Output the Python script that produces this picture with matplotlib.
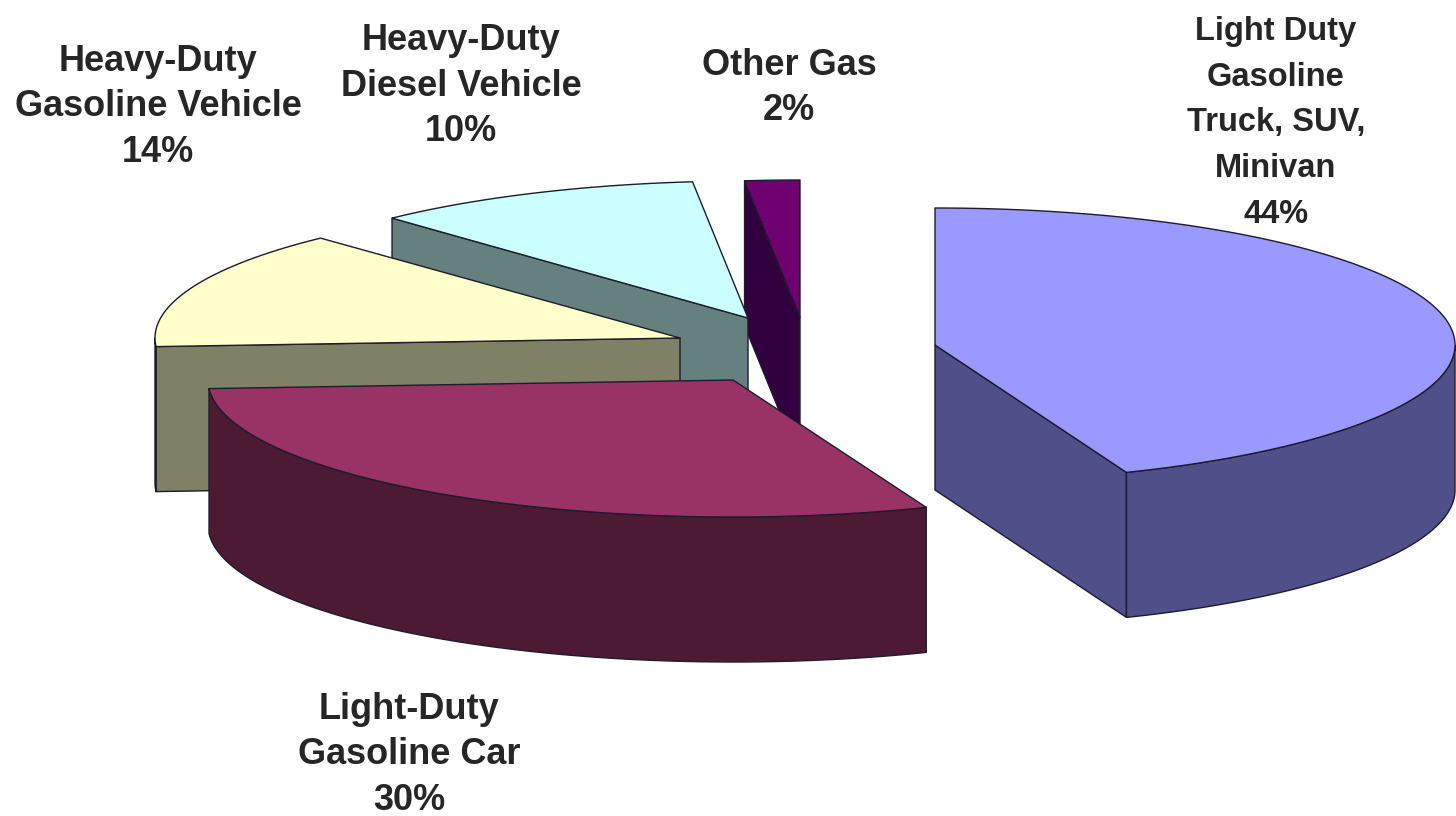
import numpy as np
import matplotlib
matplotlib.use('Agg')
import matplotlib.pyplot as plt
from matplotlib.patches import Polygon

# data
labels = ['Light Duty\nGasoline\nTruck, SUV,\nMinivan\n44%',
          'Light-Duty\nGasoline Car\n30%',
          'Heavy-Duty\nGasoline Vehicle\n14%',
          'Heavy-Duty\nDiesel Vehicle\n10%',
          'Other Gas\n2%']
# unrounded shares
values = [44, 30, 14, 10.3, 1.7]

# look of the slices, pixel units
apex_x = [935, 733, 680, 748, 800]
apex_y = [345, 380, 338, 318, 317]
radius_x = [520, 525, 525, 520, 520]
top_colors = ['#9999ff', '#993366', '#ffffcc', '#ccffff', '#6f006f']
side_colors = ['#4f4f8a', '#4d1a33', '#808066', '#668080', '#33003f']
label_x = [1276, 409, 158, 461, 789]
label_y = [123, 755, 107, 86, 88]
label_size = [23.5, 26, 26, 26, 26]
label_gap = [50, 48, 48, 48, 48]
draw_order = [4, 3, 2, 1, 0]
ry, depth = 137, 145

fig = plt.figure(figsize=(14.56, 8.16), dpi=100)
ax = fig.add_axes([0, 0, 1, 1])
ax.set_xlim(0, 1456)
ax.set_ylim(816, 0)
ax.axis('off')


def rim(x0, y0, rx, a, b):
    # a, b in degrees clockwise from 12 o'clock
    t = np.radians(np.linspace(a, b, 200))
    return np.column_stack([x0 + rx * np.sin(t), y0 - ry * np.cos(t)])


edges = np.cumsum([0] + values) / sum(values) * 360

for i in draw_order:
    a, b = edges[i], edges[i + 1]
    x0, y0, rx = apex_x[i], apex_y[i], radius_x[i]
    down = np.array([0, depth])
    kw = dict(edgecolor='#1c1c2c', linewidth=1.0, joinstyle='round')

    if 180 < a < 360:
        p = rim(x0, y0, rx, a, a)[:1]
        face = np.vstack([[x0, y0], p, p + down, [x0, y0 + depth]])
        ax.add_patch(Polygon(face, facecolor=side_colors[i], **kw))
    if 0 < b < 180:
        p = rim(x0, y0, rx, b, b)[:1]
        face = np.vstack([[x0, y0], p, p + down, [x0, y0 + depth]])
        ax.add_patch(Polygon(face, facecolor=side_colors[i], **kw))

    lo, hi = max(a, 90), min(b, 270)
    if lo < hi:
        arc = rim(x0, y0, rx, lo, hi)
        ax.add_patch(Polygon(np.vstack([arc, arc[::-1] + down]),
                             facecolor=side_colors[i], **kw))

    top = np.vstack([[x0, y0], rim(x0, y0, rx, a, b)])
    ax.add_patch(Polygon(top, facecolor=top_colors[i], **kw))

for i in range(len(labels)):
    ax.text(label_x[i], label_y[i], labels[i], ha='center', va='center',
            fontsize=label_size[i], fontweight='bold', family='Liberation Sans',
            color='#262626', linespacing=label_gap[i] / (label_size[i] * 1.326))

fig.savefig('out.png', dpi=100)
